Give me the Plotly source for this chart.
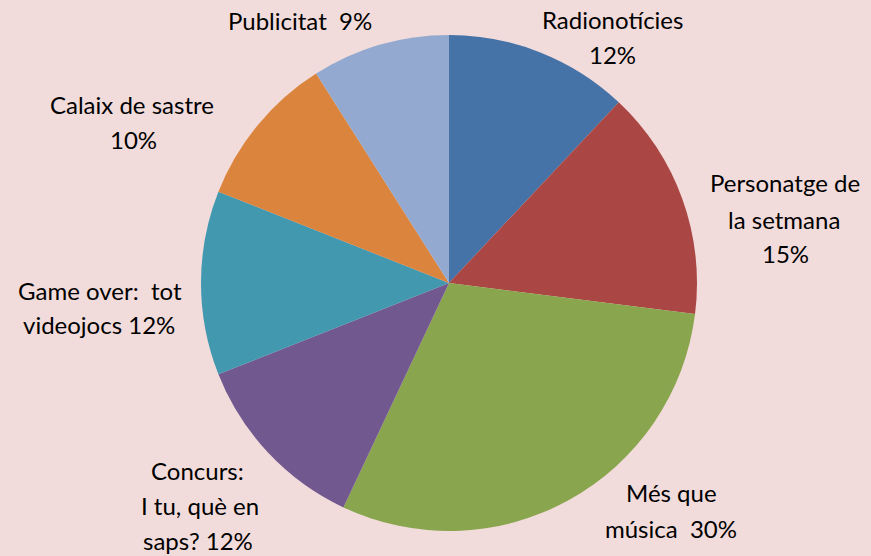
import plotly.graph_objects as go

categories = ["Radionotícies", "Personatge de la setmana", "Més que música",
              "Concurs: I tu, què en saps?", "Game over: tot videojocs",
              "Calaix de sastre", "Publicitat"]
values = [12, 15, 30, 12, 12, 10, 9]
colors = ["#4572A7", "#AA4643", "#89A54E", "#71588F", "#4198AF", "#DB843D", "#93A9CF"]

# label lines per slice (text) with pixel placement (style)
label_lines = [
    ["Radionotícies", f"{values[0]}%"],
    ["Personatge de", "la setmana", f"{values[1]}%"],
    ["Més que", f"música\u00a0\u00a0{values[2]}%"],
    ["Concurs:", "I tu, què en", f"saps? {values[3]}%"],
    ["Game over:\u00a0\u00a0tot", f"videojocs {values[4]}%"],
    ["Calaix de sastre", f"{values[5]}%"],
    [f"Publicitat\u00a0\u00a0{values[6]}%"],
]
label_pos = [
    [(612, 19), (612, 54)],
    [(785, 183), (784, 219), (785, 253)],
    [(671, 492), (671, 528)],
    [(197, 470), (200, 505), (198, 540)],
    [(100, 290), (99, 324)],
    [(132, 105), (133, 139)],
    [(300, 20)],
]

W, H = 871, 556
cx, cy, r = 449, 283, 248

fig = go.Figure(go.Pie(
    labels=categories, values=values, sort=False, direction="clockwise",
    rotation=0, marker=dict(colors=colors, line=dict(width=0)),
    textinfo="none", hoverinfo="label+percent", showlegend=False,
    domain=dict(x=[(cx - r) / W, (cx + r) / W], y=[(H - cy - r) / H, (H - cy + r) / H]),
))

for lines, poss in zip(label_lines, label_pos):
    for t, (px, py) in zip(lines, poss):
        fig.add_annotation(text=t, x=px / W, y=1 - py / H, xref="paper", yref="paper",
                           xanchor="center", yanchor="middle", showarrow=False,
                           font=dict(family="Lato", size=24, color="#000000"))

fig.update_layout(width=W, height=H, margin=dict(l=0, r=0, t=0, b=0),
                  paper_bgcolor="#F2DCDB", plot_bgcolor="#F2DCDB")
fig.write_html("out.html", config={"displayModeBar": False},
               post_script="document.body.style.margin='0';document.body.style.overflow='hidden';")
